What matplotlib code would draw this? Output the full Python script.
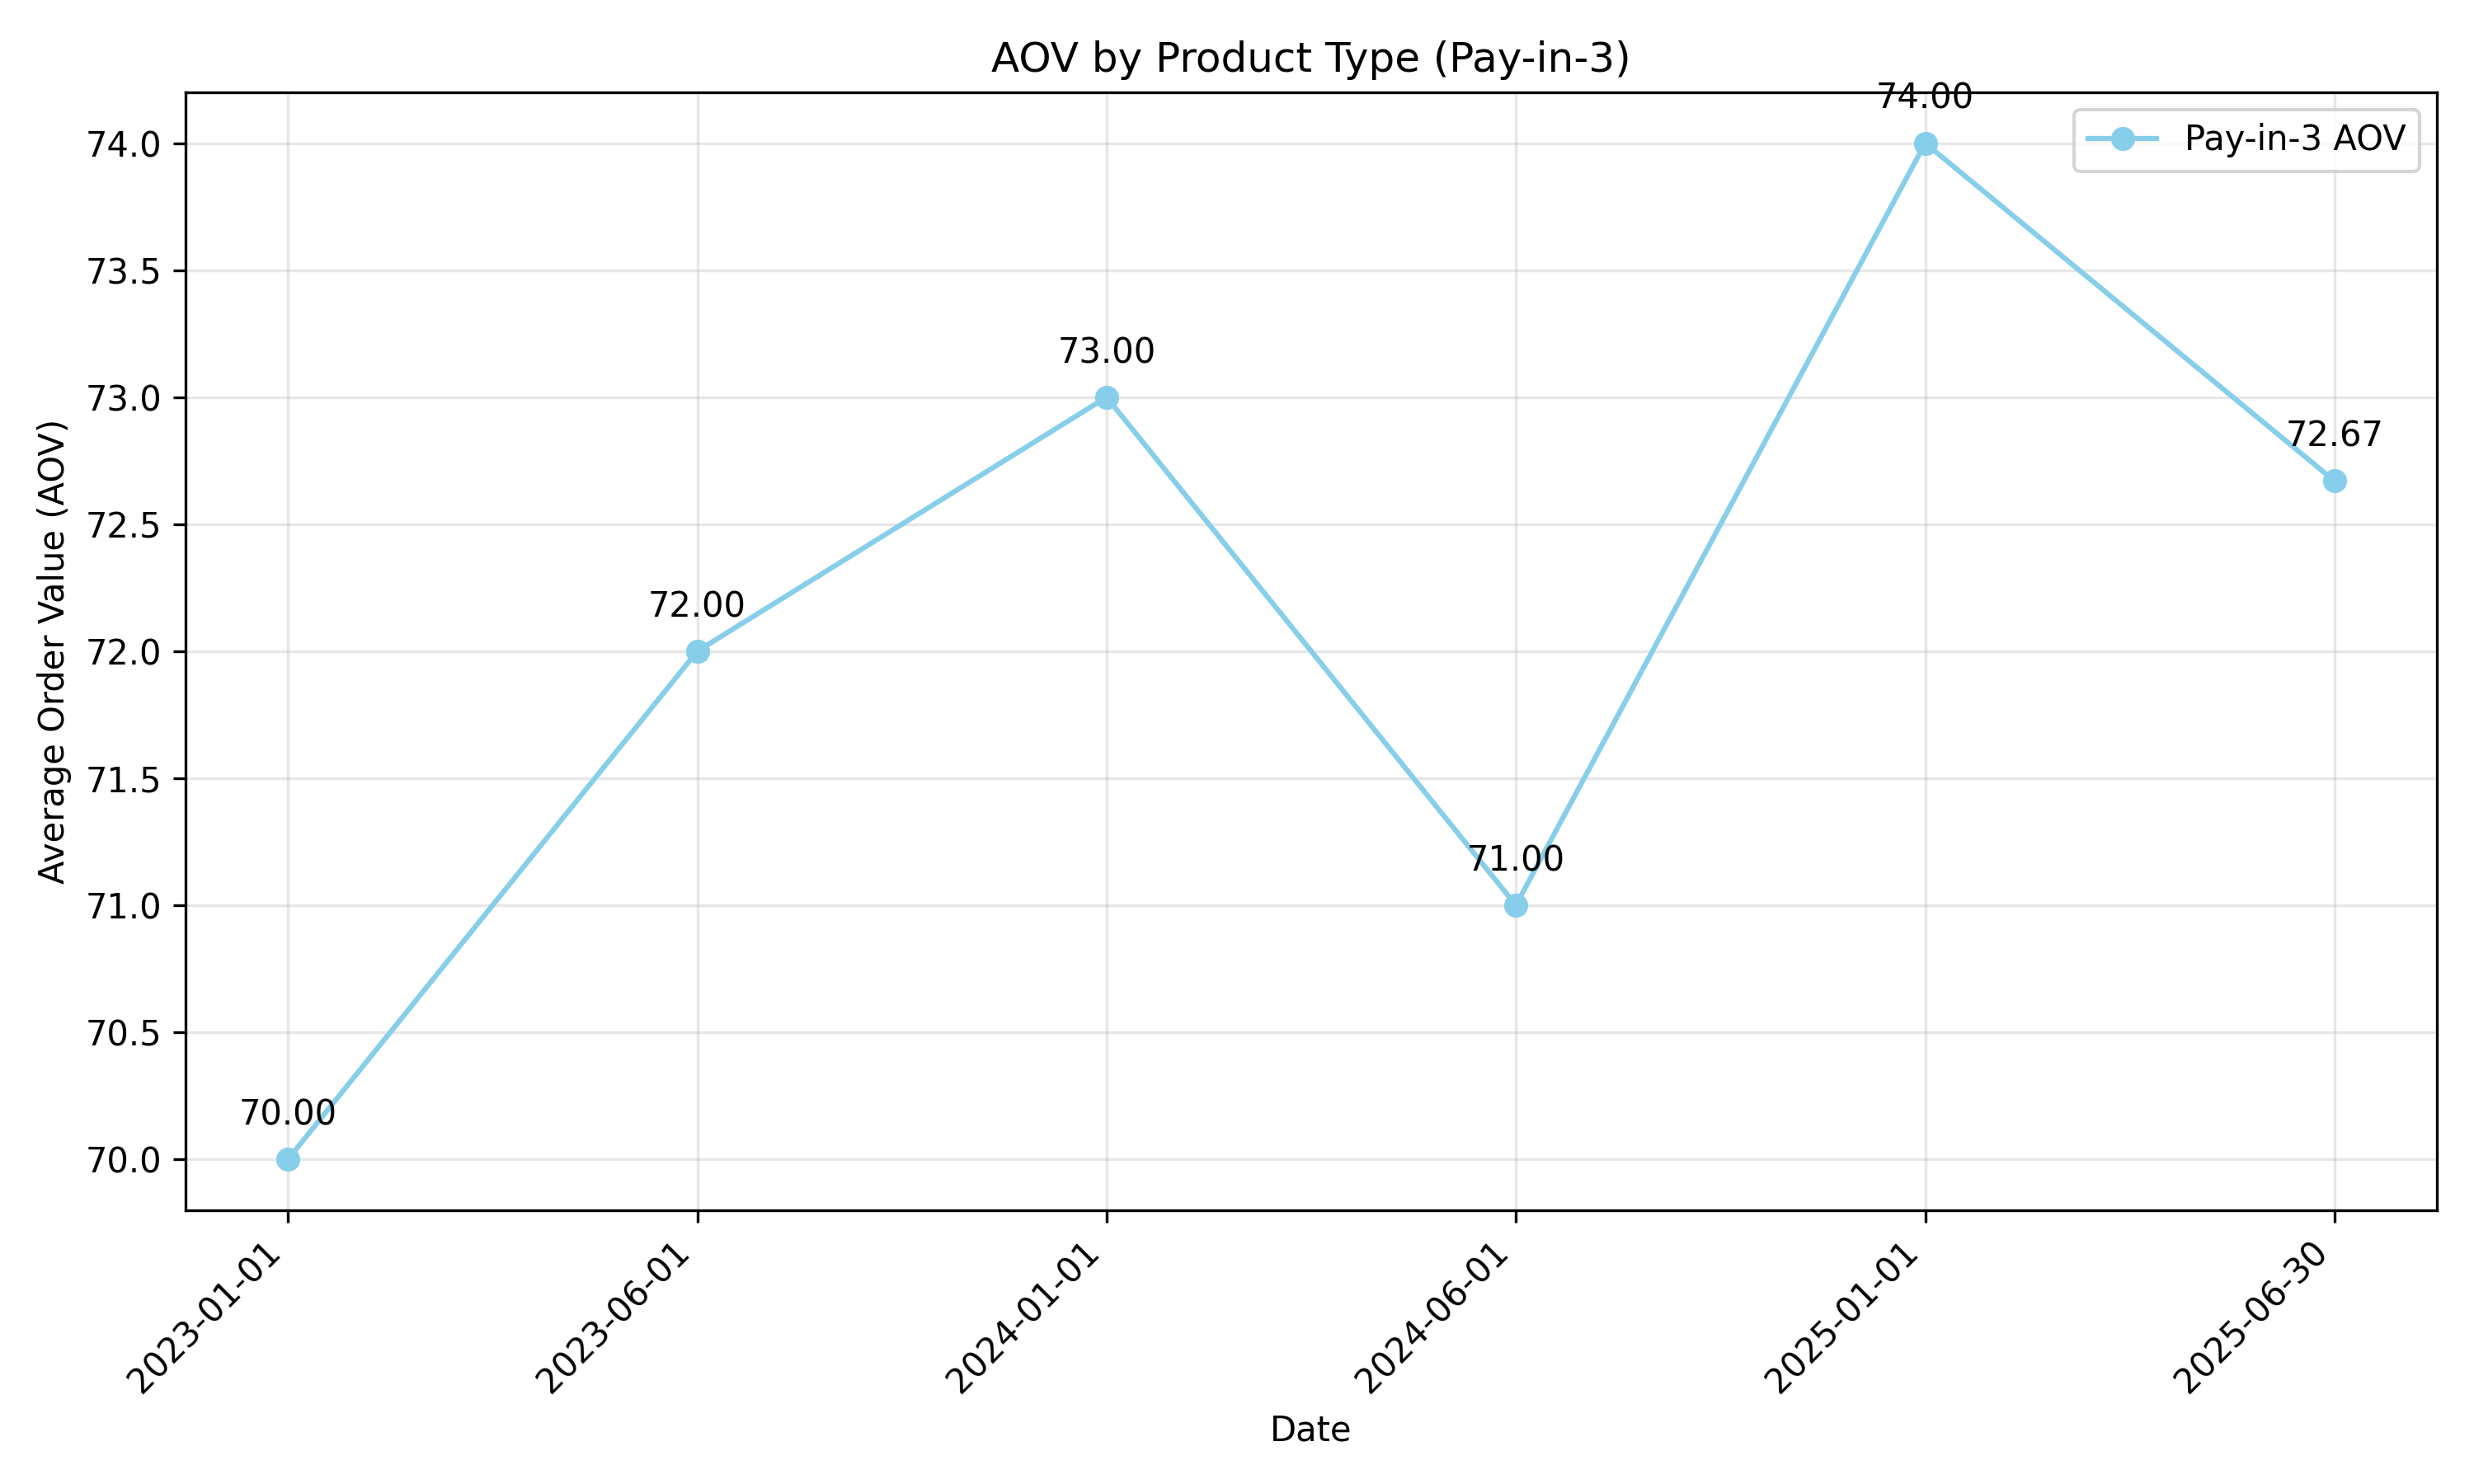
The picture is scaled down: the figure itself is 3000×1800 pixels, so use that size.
import matplotlib
matplotlib.use('Agg')
import matplotlib.pyplot as plt

dates = ['2023-01-01', '2023-06-01', '2024-01-01', '2024-06-01', '2025-01-01', '2025-06-30']
aov = [70.00, 72.00, 73.00, 71.00, 74.00, 72.67]

fig, ax = plt.subplots(figsize=(10, 6))
ax.plot(dates, aov, marker='o', color='skyblue', label='Pay-in-3 AOV')
for d, v in zip(dates, aov):
    ax.annotate(f'{v:.2f}', (d, v), textcoords='offset points', xytext=(0, 10), ha='center')

ax.set_title('AOV by Product Type (Pay-in-3)')
ax.set_xlabel('Date')
ax.set_ylabel('Average Order Value (AOV)')
ax.grid(True, alpha=0.3)
ax.legend()
plt.xticks(rotation=45, ha='right')
plt.tight_layout()
plt.savefig('out.png', dpi=300)
